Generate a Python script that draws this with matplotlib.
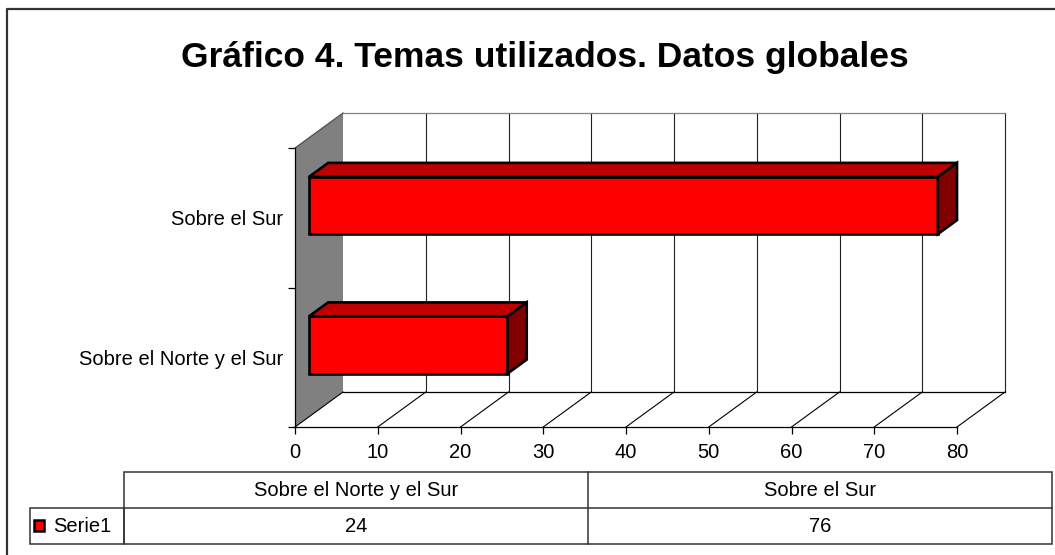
import numpy as np
import matplotlib.pyplot as plt
from matplotlib.patches import Polygon, Rectangle

plt.rcParams['font.family'] = ['Liberation Sans', 'DejaVu Sans']

title = "Gráfico 4. Temas utilizados. Datos globales"
categories = ["Sobre el Norte y el Sur", "Sobre el Sur"]
values = [24, 76]
series_name = "Serie1"
x_ticks = np.arange(0, 81, 10)

W, H = 1055, 555
fig = plt.figure(figsize=(W / 100, H / 100), dpi=100)

# full figure layer in pixel units for frame, title and data table
lay = fig.add_axes([0, 0, 1, 1])
lay.set_xlim(0, W)
lay.set_ylim(H, 0)
lay.axis('off')

# chart axes sits on the front plane of the 3d box
left, right, top, bottom = 295, 957, 148, 427
ax = fig.add_axes([left / W, 1 - bottom / H, (right - left) / W, (bottom - top) / H])
ax.set_xlim(0, 80)
ax.set_ylim(0, 2)
ax.patch.set_visible(False)

# oblique depth offset, in data units per unit depth
DX = 48 / ((right - left) / 80)
DY = 35 / ((bottom - top) / 2)


def p3(x, y, d):
    return (x + d * DX, y + d * DY)


def poly(pts, **kw):
    ax.add_patch(Polygon([p3(*p) for p in pts], closed=True, clip_on=False, **kw))


def line(a, b, **kw):
    pa, pb = p3(*a), p3(*b)
    ax.plot([pa[0], pb[0]], [pa[1], pb[1]], clip_on=False, solid_capstyle='projecting', **kw)


# side wall
poly([(0, 0, 0), (0, 2, 0), (0, 2, 1), (0, 0, 1)], facecolor='#808080', edgecolor='none', zorder=1)
line((0, 2, 0), (0, 2, 1), color='#505050', lw=0.9, zorder=2)

# back wall grid
for xv in x_ticks[1:]:
    line((xv, 0, 1), (xv, 2, 1), color='#202020', lw=0.8, zorder=2)
line((0, 2, 1), (80, 2, 1), color='#808080', lw=0.9, zorder=2)

# floor
for xv in x_ticks:
    line((xv, 0, 0), (xv, 0, 1), color='black', lw=0.8, zorder=2)
line((0, 0, 1), (80, 0, 1), color='black', lw=0.9, zorder=2)

# bars
d0, d1 = 0.29, 0.69
bh = 0.41
for i, v in enumerate(values):
    c = i + 0.515
    y0, y1 = c - bh / 2, c + bh / 2
    kw = dict(edgecolor='black', lw=1.9, joinstyle='miter', zorder=4)
    poly([(0, y0, d0), (v, y0, d0), (v, y1, d0), (0, y1, d0)], facecolor='#FF0000', **kw)
    poly([(0, y1, d0), (v, y1, d0), (v, y1, d1), (0, y1, d1)], facecolor='#C00000', **kw)
    poly([(v, y0, d0), (v, y0, d1), (v, y1, d1), (v, y1, d0)], facecolor='#800000', **kw)

# axes
for s in ['top', 'right']:
    ax.spines[s].set_visible(False)
for s in ['left', 'bottom']:
    ax.spines[s].set_linewidth(0.9)
    ax.spines[s].set_zorder(3)
ax.set_xticks(x_ticks)
ax.set_xticklabels([str(t) for t in x_ticks], fontsize=14.5)
ax.set_yticks([0, 1, 2])
ax.set_yticklabels([])
ax.set_yticks([0.5, 1.5], minor=True)
ax.set_yticklabels(categories, minor=True, fontsize=14.5)
ax.tick_params(axis='both', which='major', length=5, width=0.9, direction='out')
ax.tick_params(axis='x', pad=6.5)
ax.tick_params(axis='y', which='minor', length=0, pad=8.5)

# title
lay.text(545, 57, title, ha='center', va='center', fontsize=25.5, fontweight='bold')

# frame
lay.plot([7, 7, W + 5], [H + 5, 9, 9], color='#333333', lw=1.6)

# data table
tc = '#333333'
row_l, col_m, col_r = 30, 124, 1052
col_split = 588
r0, r1, r2 = 472, 508, 544
lay.add_patch(Rectangle((col_m, r0), col_r - col_m, r2 - r0, fill=False, ec=tc, lw=1.1))
lay.add_patch(Rectangle((row_l, r1), col_m - row_l, r2 - r1, fill=False, ec=tc, lw=1.1))
lay.plot([col_m, col_r], [r1, r1], color=tc, lw=1.1)
lay.plot([col_split, col_split], [r0, r2], color=tc, lw=1.1)
centers = [(col_m + col_split) / 2, (col_split + col_r) / 2]
for cx, cat, v in zip(centers, categories, values):
    lay.text(cx, (r0 + r1) / 2, cat, ha='center', va='center', fontsize=14.5)
    lay.text(cx, (r1 + r2) / 2, str(v), ha='center', va='center', fontsize=14.5)
lay.add_patch(Rectangle((34, 520), 10, 11, facecolor='#FF0000', edgecolor='black', lw=1.8))
lay.text(53, (r1 + r2) / 2, series_name, ha='left', va='center', fontsize=14.5)

fig.savefig('out.png', dpi=100)
